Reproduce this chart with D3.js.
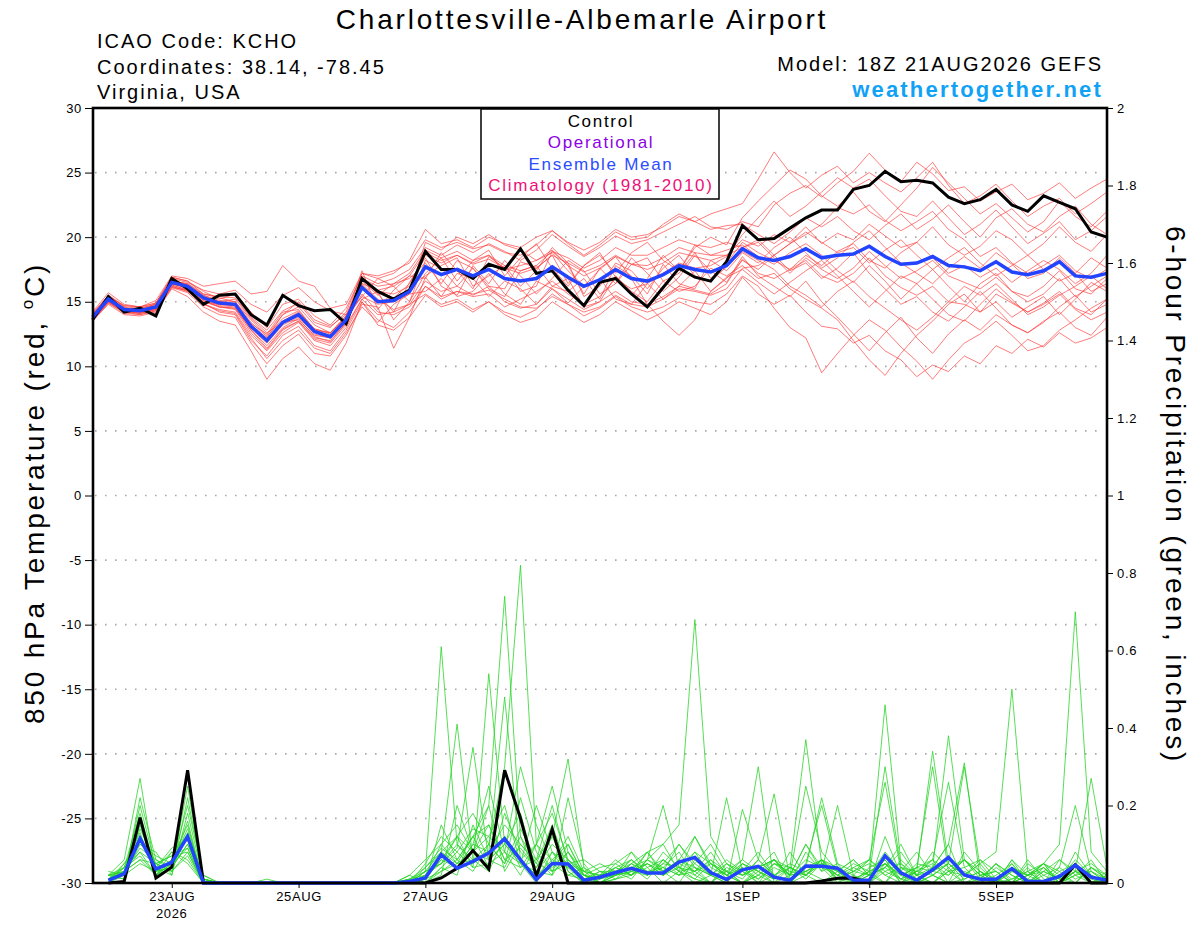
<!DOCTYPE html>
<html>
<head>
<meta charset="utf-8">
<script src="https://cdn.jsdelivr.net/npm/d3@7"></script>
<style>
  body { margin: 0; background: #fff; }
  svg text { font-family: "Liberation Sans", Arial, Helvetica, sans-serif; letter-spacing: 0.1em; }
</style>
</head>
<body>
<svg id="chart" width="1200" height="927"></svg>
<script>
// GEFS plume for KCHO: 850 hPa temperature (left) and 6-hour precipitation (right)

// run start, 6-hourly steps
var startTime = Date.UTC(2026, 7, 21, 18);
var stepHours = 6;
var totalHours = 384;

// Axis ticks
var tempTicks = [-30, -25, -20, -15, -10, -5, 0, 5, 10, 15, 20, 25, 30];
var gridTemps = [-25, -20, -15, -10, -5, 0, 5, 10, 15, 20, 25];
var precipTicks = [0, 0.2, 0.4, 0.6, 0.8, 1, 1.2, 1.4, 1.6, 1.8, 2];
var dateTicks = ['2026-08-23', '2026-08-25', '2026-08-27', '2026-08-29', '2026-09-01', '2026-09-03', '2026-09-05'];

// Legend
var legendItems = ['Control', 'Operational', 'Ensemble Mean', 'Climatology (1981-2010)'];
var legendColors = ['#000000', '#8c00e6', '#2b4cff', '#ee1177'];

// 850 hPa temperature, hour 0..384
var tempControl = [13.6,15.4,14.2,14.5,13.9, 16.8,16.0,14.8,15.5,15.6, 14.0,13.2,15.5,14.7,14.3, 14.4,13.3,16.8,15.8,15.2,
  15.9,18.9,17.5,17.5,16.8, 17.9,17.5,19.1,17.2,17.4, 15.9,14.7,16.5,16.8,15.6, 14.6,16.1,17.6,16.9,16.6,
  18.1,20.9,19.8,19.9,20.7, 21.5,22.1,22.1,23.7,24.0, 25.1,24.3,24.4,24.2,23.1, 22.6,22.9,23.7,22.5,22.0,
  23.2,22.7,22.2,20.4,20.0];

var tempMean = [13.8,15.2,14.4,14.3,14.6, 16.5,16.2,15.3,14.9,14.8, 13.1,12.0,13.4,14.0,12.7, 12.3,13.6,16.1,15.0,15.1,
  15.8,17.7,17.1,17.5,17.0, 17.5,16.8,16.6,16.8,17.7, 16.9,16.2,16.7,17.5,16.8, 16.6,17.1,17.8,17.5,17.3,
  17.8,19.1,18.4,18.2,18.5, 19.1,18.4,18.6,18.7,19.3, 18.5,17.9,18.0,18.5,17.8, 17.7,17.4,18.1,17.3,17.1,
  17.4,18.1,17.0,16.9,17.2];

var tempMembers = [
  [14.0,15.5,14.6,14.2,14.9, 16.9,16.6,15.8,15.2,15.6, 14.2,13.0,14.8,15.2,13.9, 13.2,14.5,17.0,16.4,16.8, 17.5,19.2,18.6,19.4,18.8, 19.5,18.9,18.2,19.0,20.2, 19.3,18.5,19.2,20.1,19.5, 19.8,20.4,21.0,21.6,20.8, 20.6,21.2,20.8,22.5,23.4, 24.0,23.1,24.2,25.1,26.5, 25.2,24.3,25.8,24.9,23.6, 23.9,22.8,23.5,24.1,22.9, 23.4,24.2,23.0,23.8,24.5],
  [13.6,14.9,14.2,14.0,14.3, 16.2,15.8,14.9,14.2,14.0, 12.0,10.8,12.4,13.1,11.6, 11.2,12.8,15.0,13.2,12.8, 13.8,15.5,14.6,15.0,14.2, 15.0,14.0,13.4,13.8,15.0, 14.2,13.4,14.0,15.0,14.3, 13.6,14.2,15.0,14.5,14.0, 15.0,16.9,15.6,14.8,15.5, 14.2,13.1,12.9,11.8,12.4, 11.2,10.5,9.2,10.1,9.6, 10.8,10.2,11.6,11.0,12.1, 11.5,12.6,11.8,12.2,13.0],
  [13.9,15.3,14.5,14.4,14.7, 16.6,16.4,15.6,15.3,15.0, 13.6,12.4,14.0,14.6,13.2, 12.6,13.9,16.4,15.9,16.2, 17.0,18.8,18.2,18.6,18.0, 18.6,17.5,17.8,18.2,19.0, 17.8,17.0,17.6,18.5,17.9, 17.5,18.0,18.8,18.5,18.2, 18.6,19.8,19.3,20.2,19.6, 20.8,19.5,20.3,19.8,21.0, 20.1,19.2,19.6,20.8,19.4, 18.6,19.3,20.5,19.8,18.6, 19.5,20.8,19.6,18.9,20.2],
  [13.7,15.0,14.3,14.1,14.5, 16.3,15.9,14.8,14.4,14.2, 12.4,11.2,12.6,13.4,12.0, 11.6,13.0,15.2,14.0,14.2, 14.8,16.6,15.8,16.2,15.5, 16.2,15.0,14.5,14.8,16.0, 15.2,14.4,15.0,15.8,15.0, 14.8,15.4,16.2,15.9,15.6, 16.4,18.3,17.2,16.8,17.5, 18.2,17.0,16.5,17.2,18.4, 17.0,16.1,15.5,16.2,15.0, 14.8,14.2,15.6,14.9,14.2, 14.9,15.8,14.5,14.0,15.2],
  [13.8,15.3,14.4,14.5,14.8, 16.8,16.5,15.9,15.6,15.9, 14.8,14.2,15.5,16.1,15.0, 14.3,14.0,15.4,14.8,15.0, 15.6,19.6,19.0,20.0,19.5, 20.2,19.4,19.0,18.2,18.8, 17.4,16.2,17.5,18.5,16.8, 14.8,13.5,12.4,13.6,15.8, 16.8,18.2,17.5,18.6,19.5, 20.2,21.0,22.3,21.8,22.5, 21.3,20.5,21.2,22.0,20.6, 19.8,18.5,19.2,18.0,17.2, 17.8,18.6,17.4,16.8,17.5],
  [13.5,14.8,14.0,13.9,14.2, 16.0,15.4,14.2,13.5,13.2, 11.2,9.0,10.6,11.5,10.2, 9.7,11.8,15.0,13.6,13.0, 14.2,16.2,15.2,15.8,15.4, 15.6,14.6,15.2,15.8,16.6, 15.6,14.8,15.4,16.8,16.0, 16.4,17.2,18.0,17.6,17.8, 18.5,20.2,21.5,22.8,21.6, 22.4,23.5,24.6,23.8,24.5, 23.2,22.0,21.6,22.8,21.5, 20.2,21.0,22.1,20.8,19.5, 20.3,21.2,19.8,20.5,21.6],
  [14.2,15.7,14.8,14.6,15.1, 17.0,16.8,16.2,16.4,16.6, 15.6,15.8,17.8,16.6,16.2, 14.5,14.8,17.2,16.8,17.2, 18.2,20.6,19.5,19.8,19.2, 20.0,19.5,19.2,20.0,20.5, 19.5,18.6,19.4,20.4,19.8, 20.0,21.0,21.8,21.2,20.6, 20.9,21.0,20.2,19.5,20.4, 21.5,20.8,21.6,20.5,19.8, 20.9,21.8,20.6,21.4,22.5, 21.2,20.0,21.5,22.2,21.0, 20.4,21.6,22.4,21.0,20.2],
  [13.6,15.0,14.2,14.2,14.4, 16.1,15.9,15.0,14.6,14.5, 12.8,11.4,12.9,13.5,12.2, 12.0,13.3,16.8,15.6,14.2, 16.5,18.4,16.2,15.5,17.8, 16.4,18.2,17.0,15.6,16.8, 18.2,17.4,15.6,16.4,18.4, 17.2,15.8,16.9,18.6,17.4, 16.5,18.5,17.0,16.2,15.4, 16.6,15.0,13.8,12.5,11.2, 12.6,13.8,12.2,11.0,12.5, 13.6,12.8,14.0,13.2,12.6, 13.5,14.2,13.0,12.4,13.8],
  [14.1,15.4,14.6,14.5,14.8, 16.7,16.3,15.5,15.1,15.0, 13.4,12.3,13.7,14.3,12.9, 12.5,13.8,15.4,16.8,16.2, 15.0,17.2,18.4,16.6,18.2, 19.0,17.0,18.4,19.5,17.6, 16.2,17.8,18.8,16.9,15.5, 16.8,18.6,17.4,19.2,20.0, 19.4,21.5,22.8,24.0,25.2, 24.5,23.2,22.4,23.5,22.0, 21.2,22.5,23.8,25.4,24.2, 23.0,21.8,22.6,21.5,20.4, 21.2,22.8,21.6,20.8,22.0],
  [13.7,15.1,14.3,14.3,14.5, 16.4,16.1,15.2,14.7,14.6, 12.9,11.8,13.2,13.8,12.5, 12.2,13.5,15.6,14.2,14.0, 14.6,16.2,15.4,15.8,15.6, 15.9,15.2,14.6,14.5,15.4, 14.8,13.9,14.5,15.4,14.6, 14.2,14.6,15.3,15.0,14.8, 15.6,17.0,16.2,14.5,13.0, 12.2,9.5,11.0,12.4,13.6, 12.8,11.5,10.4,9.0,10.5, 11.8,12.5,13.5,12.4,11.2, 11.6,12.8,13.6,14.5,15.2],
  [13.9,15.2,14.5,14.3,14.6, 16.5,16.2,15.4,15.0,14.9, 13.2,12.1,13.5,14.1,12.8, 12.4,13.7,17.4,14.4,15.9, 17.0,16.8,18.8,17.4,16.0, 18.5,17.6,15.8,16.2,18.9, 17.8,15.6,17.6,16.4,17.9, 18.4,16.6,17.2,18.8,16.8, 18.0,19.6,18.8,18.2,17.5, 18.6,17.8,18.9,19.5,18.2, 17.6,18.8,19.6,18.4,17.2, 17.8,16.9,17.6,16.5,17.4, 18.2,17.5,16.4,17.2,18.6],
  [13.8,15.4,14.7,14.6,14.9, 16.9,16.6,15.6,15.4,15.3, 13.8,12.8,14.3,14.9,13.4, 13.0,14.2,17.2,17.0,17.4, 18.0,19.8,19.2,19.6,19.1, 19.4,18.8,18.6,19.4,20.5, 19.6,19.0,19.6,20.6,20.0, 20.2,20.8,21.6,21.2,21.8, 22.2,22.6,24.5,26.6,25.0, 23.8,24.8,25.5,24.2,25.0, 24.2,23.5,24.6,25.8,24.0, 22.6,23.2,24.1,22.8,21.6, 22.4,23.0,21.8,22.6,23.5],
  [13.5,14.9,14.1,14.0,14.3, 16.1,15.7,14.6,14.0,13.8, 11.8,10.2,11.6,12.5,11.0, 10.8,12.4,14.8,14.6,11.4, 13.8,16.9,15.4,17.2,16.8, 15.4,16.6,16.0,14.8,16.2, 16.8,14.6,15.0,17.0,15.8, 15.0,16.6,15.8,16.2,17.6, 17.0,17.8,16.8,17.2,16.0, 15.2,14.5,13.6,12.0,10.5, 9.3,11.0,12.4,13.5,14.8, 15.6,14.2,15.0,13.8,14.6, 15.4,14.0,15.2,16.5,15.8],
  [14.0,15.2,14.4,14.4,14.7, 16.6,16.4,15.5,15.0,15.2, 13.7,12.6,13.4,13.6,12.4, 12.2,13.4,16.3,15.0,15.3, 16.4,18.6,18.0,18.6,17.9, 18.3,17.6,17.2,17.6,18.6, 18.0,17.3,17.8,18.6,17.9, 17.8,18.4,19.2,18.8,18.6, 19.0,19.4,18.5,17.9,18.8, 19.5,18.6,17.4,16.5,17.8, 16.6,15.2,16.4,17.5,16.2, 15.0,16.4,17.2,15.8,15.0, 15.6,16.8,15.4,16.2,17.0],
  [13.9,15.1,14.4,14.2,14.6, 16.4,16.0,15.1,14.6,14.4, 12.6,11.3,12.8,13.5,12.1, 11.8,13.2,15.2,15.8,13.6, 15.0,18.2,17.6,16.2,17.6, 16.0,15.4,17.4,17.8,16.2, 15.8,16.8,15.2,17.8,17.0, 15.6,17.9,16.4,16.0,18.2, 17.4,18.8,18.0,19.2,20.0, 18.8,17.6,18.4,19.6,20.5, 19.2,18.0,17.2,16.4,17.6, 18.5,17.6,18.8,17.9,16.8, 17.2,18.4,17.2,15.8,16.4],
  [13.7,15.0,14.2,14.1,14.4, 16.3,15.9,15.0,14.8,14.7, 13.0,12.0,13.5,14.2,12.9, 12.6,13.9,16.4,15.2,14.4, 14.8,15.6,14.8,15.2,14.4, 15.0,14.2,13.8,14.4,15.6, 14.8,14.2,14.6,15.5,14.8, 14.6,15.2,16.0,15.8,15.5, 16.0,17.6,17.8,18.6,17.4, 18.0,16.8,17.6,18.8,17.2, 16.0,14.8,15.4,14.2,13.5, 14.6,15.8,14.5,13.2,12.6, 13.4,14.6,15.5,14.2,14.8],
  [14.1,15.5,14.7,14.6,14.9, 16.7,16.3,15.3,14.8,14.7, 13.2,12.2,14.0,15.0,13.6, 13.1,14.0,16.6,15.5,16.4, 16.8,18.0,16.4,18.2,17.6, 16.2,16.0,18.1,17.6,18.6, 16.4,17.8,18.6,17.2,18.8, 19.6,18.2,17.4,19.4,18.6, 18.6,19.2,19.8,18.6,19.5, 20.4,19.6,18.8,19.2,18.0, 19.0,19.8,18.6,17.5,18.4, 19.2,18.0,17.0,17.8,18.6, 17.5,16.6,17.2,18.4,17.6],
  [13.6,15.0,14.3,14.1,14.4, 16.2,15.8,14.8,14.3,14.1, 12.2,10.6,12.0,12.8,11.4, 11.0,12.6,14.6,13.4,14.8, 15.6,15.8,16.8,15.4,15.8, 17.2,15.6,14.8,16.6,16.0, 14.9,16.2,16.8,15.2,14.8, 16.4,15.2,16.2,17.4,15.8, 16.9,17.5,16.5,15.6,16.5, 17.4,18.2,17.0,15.8,14.6, 15.8,17.0,16.4,15.2,14.0, 13.5,14.8,16.0,15.0,14.2, 14.8,15.6,14.4,13.6,14.2],
  [13.8,15.3,14.5,14.4,14.7, 16.6,16.2,15.4,14.9,14.8, 13.3,12.5,14.2,14.4,12.8, 12.6,13.8,16.8,16.2,16.4, 17.2,19.0,18.4,18.9,18.2, 18.6,17.8,17.4,17.8,18.9, 18.4,17.6,18.2,19.2,18.6, 18.6,19.2,19.8,19.4,19.2, 19.6,19.2,19.6,18.4,17.2, 18.4,17.5,16.8,17.6,18.9, 17.8,16.8,17.4,18.2,17.0, 16.5,16.0,16.9,15.8,15.4, 16.2,17.4,16.0,15.6,16.8],
  [13.7,15.2,14.4,14.2,14.5, 16.4,16.1,15.1,14.6,14.5, 12.8,11.6,13.0,13.7,12.3, 11.9,13.4,16.9,15.8,15.6, 16.2,17.0,17.8,18.4,16.2, 17.0,17.8,16.2,17.4,19.2, 18.0,15.4,16.2,18.0,17.4, 16.0,17.6,18.6,17.0,16.6, 17.7,18.9,18.2,17.5,16.2, 15.5,14.6,15.8,16.6,15.4, 14.5,13.6,12.8,13.8,15.0, 16.2,15.5,16.4,15.2,14.0, 14.6,15.5,16.2,17.0,16.0]
];

// 6-hour precipitation (inches), hour 6..384
var precipControl = [0,0.004,0.169,0.013,0.041,0.291,0, 0,0,0,0,0,0,0,0,0,0,0,0,
  0,0,0.013,0.038,0.084,0.036,0.291,0.167,0.017,0.139,0,0,0,
  0,0,0,0,0,0,0,0,0,0,0,0,0, 0.005,0.012,0.013,0, 0,0,0,0,0,0,0,0,0,0,0,0, 0.047,0,0];

var precipMean = [0.007,0.024,0.115,0.036,0.053,0.120,0, 0,0,0,0,0,0,0,0,0,0,0,0,
  0.004,0.013,0.073,0.038,0.056,0.077,0.114,0.060,0.009,0.050,0.049,0.007,0.015,
  0.027,0.038,0.026,0.026,0.054,0.066,0.027,0.009,0.034,0.043,0.015,0.007,0.044,0.043,0.038,0.007,
  0.007,0.070,0.026,0.007,0.034,0.066,0.021,0.010,0.010,0.037,0.004,0.004,0.017,0.046,0.015,0.007];

var precipMembers = [
  [0.01,0.04,0.18,0.03,0.06,0.15,0, 0,0,0,0,0,0,0,0,0,0,0,0, 0,0.02,0.10,0.05,0.08,0.12,0.20,0.05,0,0.08,0.04,0,0.02, 0.04,0.06,0.02,0.05,0.10,0.04,0,0,0.05,0.02,0,0,0.08,0.03,0.05,0,0,0.12,0.02,0,0.04,0.10,0,0,0,0.06,0,0,0.02,0.05,0,0],
  [0.02,0.06,0.27,0.02,0.04,0.10,0.01, 0,0,0,0,0,0,0,0,0,0,0,0, 0,0,0.04,0.02,0.15,0.06,0.10,0.18,0.03,0.02,0.22,0.05,0, 0.02,0.08,0.04,0,0.03,0.12,0.05,0.02,0,0.04,0.08,0,0.02,0.06,0,0,0.03,0.05,0.01,0,0.02,0,0.08,0.03,0,0,0.04,0,0.06,0.03,0.01,0],
  [0,0.03,0.08,0.05,0.03,0.25,0, 0,0,0,0.01,0,0,0,0,0,0,0,0, 0,0.01,0.06,0.12,0.04,0.05,0.08,0.02,0.10,0.03,0.06,0.02,0.01, 0.05,0.02,0.08,0.03,0,0.06,0.02,0.22,0.03,0,0.05,0.02,0.10,0.04,0,0.02,0.06,0.26,0.03,0.08,0.02,0,0.01,0.03,0,0.05,0,0.02,0,0.08,0.02,0],
  [0.01,0.02,0.12,0.04,0.08,0.06,0, 0,0,0,0,0,0,0,0,0,0,0,0, 0.01,0.03,0.61,0.10,0.05,0.08,0.48,0.06,0.02,0.05,0.02,0.01,0, 0.01,0.03,0.05,0.02,0.04,0.01,0,0.03,0.06,0.30,0,0.04,0.02,0.05,0.01,0,0.02,0.04,0.10,0.02,0,0.03,0,0.01,0.05,0.02,0,0.04,0,0.02,0.06,0],
  [0.02,0.01,0.22,0.06,0.04,0.12,0.02, 0,0,0,0,0,0,0,0,0,0,0,0, 0,0,0.03,0.05,0.12,0.20,0.03,0.10,0.05,0.15,0.03,0,0.03, 0.03,0.01,0.06,0.04,0.02,0.05,0.10,0.03,0,0.02,0.06,0.04,0.37,0.05,0.02,0,0.04,0.06,0,0.02,0.08,0.04,0,0.02,0.03,0,0.06,0.01,0,0.03,0,0.02],
  [0.01,0.03,0.06,0.02,0.05,0.09,0, 0,0,0,0,0,0,0,0,0,0,0,0, 0,0.04,0.08,0.41,0.06,0.03,0.12,0.04,0.06,0.02,0.08,0.03,0, 0.02,0.04,0.01,0.06,0.03,0,0.02,0.05,0.03,0.08,0.02,0,0.04,0.06,0.03,0,0.02,0.05,0,0.03,0.06,0.26,0.04,0,0.02,0.05,0,0.03,0.01,0,0.04,0.02],
  [0,0.05,0.10,0.08,0.02,0.22,0.01, 0,0,0,0,0,0,0,0,0,0,0,0, 0.02,0,0.15,0.06,0.03,0.10,0.05,0.22,0.08,0.03,0.05,0.01,0.02, 0.03,0.06,0.02,0.04,0.08,0.02,0,0.04,0.02,0.06,0.23,0.01,0.05,0.20,0.04,0.02,0,0.03,0.05,0.01,0,0.04,0.06,0.02,0,0.03,0.01,0.05,0,0.02,0.03,0],
  [0.01,0.02,0.14,0.05,0.07,0.08,0, 0,0,0,0,0,0,0,0,0,0,0,0, 0,0.03,0.05,0.09,0.35,0.06,0.04,0.12,0.02,0.06,0.10,0.02,0, 0.01,0.05,0.03,0.02,0.06,0.04,0.02,0,0.05,0.03,0.01,0.08,0.02,0,0.03,0.06,0.02,0,0.04,0.03,0.02,0.05,0.30,0.04,0,0.01,0.03,0,0.02,0.05,0,0.01],
  [0.03,0.02,0.20,0.04,0.09,0.11,0, 0,0,0,0,0,0,0,0,0,0,0,0, 0,0,0.02,0.20,0.08,0.15,0.06,0.04,0.10,0.18,0.06,0.02,0.01, 0.04,0.02,0.06,0.10,0.03,0.01,0.05,0.02,0,0.03,0.06,0.02,0.25,0.08,0.03,0.01,0,0.05,0.02,0.04,0.30,0.03,0.06,0.02,0,0.04,0.01,0,0.03,0.05,0.02,0],
  [0,0.04,0.07,0.02,0.05,0.20,0.02, 0,0,0,0,0,0,0,0,0,0,0,0, 0.01,0.02,0.07,0.04,0.10,0.25,0.08,0.05,0.03,0.08,0.02,0.04,0, 0.02,0.03,0.08,0.02,0.05,0.03,0.06,0.01,0.04,0,0.02,0.05,0.03,0.06,0.02,0.01,0.03,0.46,0.05,0.02,0,0.03,0.04,0.06,0.01,0,0.02,0.05,0.03,0,0.04,0.01],
  [0.01,0.03,0.09,0.06,0.03,0.07,0, 0,0,0,0,0,0,0,0,0,0,0,0, 0,0.05,0.12,0.08,0.04,0.54,0.10,0.06,0.02,0.04,0.08,0.01,0.03, 0.01,0.02,0.04,0.06,0.02,0.03,0,0.05,0.02,0.04,0.06,0.02,0.03,0.01,0,0.04,0.02,0.08,0.03,0,0.02,0.05,0.01,0.03,0,0.06,0.02,0,0.04,0.20,0.03,0.01],
  [0.02,0.03,0.17,0.02,0.06,0.13,0.01, 0,0,0,0,0,0,0,0,0,0,0,0, 0,0.01,0.03,0.06,0.12,0.04,0.18,0.08,0.04,0.12,0.03,0,0.02, 0.06,0.03,0.02,0.05,0.04,0.08,0.02,0,0.19,0.06,0.02,0.04,0.01,0.05,0.03,0,0.02,0.30,0.04,0.02,0.06,0,0.03,0.01,0.05,0,0.02,0.04,0,0.03,0.02,0],
  [0,0.02,0.05,0.03,0.04,0.10,0, 0,0,0,0,0,0,0,0,0,0,0,0, 0.02,0.06,0.10,0.15,0.08,0.20,0.74,0.12,0.05,0.03,0.10,0.02,0, 0.03,0.05,0.02,0.08,0.04,0.02,0.06,0.03,0,0.02,0.05,0.04,0.02,0.06,0.01,0.03,0.05,0.02,0,0.04,0.03,0.02,0.06,0.01,0,0.03,0.02,0.05,0,0.03,0.27,0.04],
  [0.01,0.05,0.11,0.04,0.02,0.18,0.01, 0,0,0,0,0,0,0,0,0,0,0,0, 0,0.02,0.05,0.10,0.06,0.08,0.15,0.10,0.06,0.20,0.05,0.03,0.02, 0.02,0.04,0.06,0.03,0.10,0.05,0.02,0.03,0.01,0.06,0.02,0,0.04,0.22,0.05,0.03,0.02,0.06,0.01,0.03,0.34,0.05,0.02,0,0.04,0.01,0.03,0,0.02,0.05,0,0.02],
  [0.02,0.04,0.13,0.02,0.08,0.05,0, 0,0,0,0,0,0,0,0,0,0,0,0, 0,0.03,0.08,0.12,0.18,0.10,0.30,0.82,0.10,0.06,0.04,0.02,0.01, 0.04,0.02,0.05,0.03,0.06,0.12,0.04,0.02,0.05,0.03,0,0.02,0.06,0.04,0.02,0.05,0.03,0,0.06,0.02,0.04,0.10,0.31,0.01,0.05,0.02,0,0.03,0.06,0.02,0,0.03],
  [0.01,0.02,0.10,0.07,0.05,0.14,0.01, 0,0,0,0,0,0,0,0,0,0,0,0, 0.01,0,0.04,0.08,0.14,0.12,0.08,0.30,0.15,0.05,0.12,0.03,0.02, 0.02,0.06,0.03,0.04,0.02,0.08,0.05,0.03,0.02,0.04,0.06,0.01,0.03,0.05,0.02,0.04,0.06,0.03,0.01,0.05,0.04,0.38,0.06,0.02,0.03,0,0.05,0.02,0.04,0.01,0.03,0],
  [0,0.03,0.06,0.05,0.07,0.09,0, 0,0,0,0,0,0,0,0,0,0,0,0, 0,0.02,0.06,0.04,0.10,0.08,0.12,0.06,0.10,0.25,0.08,0.02,0.04, 0.05,0.08,0.02,0.06,0.03,0.04,0.02,0.06,0.03,0.01,0.04,0.02,0.10,0.03,0.20,0.02,0,0.04,0.08,0.02,0.03,0.06,0.02,0.05,0,0.04,0.02,0.03,0.01,0.06,0.02,0],
  [0.02,0.01,0.15,0.03,0.04,0.16,0, 0,0,0,0,0,0,0,0,0,0,0,0, 0,0.01,0.08,0.05,0.06,0.10,0.05,0.14,0.06,0.12,0.32,0.04,0.01, 0.02,0.03,0.05,0.02,0.06,0.03,0.08,0.02,0.04,0.01,0.05,0.03,0.02,0.06,0.04,0.01,0.03,0.05,0.02,0.04,0.06,0.03,0.02,0.05,0.08,0.50,0.03,0.05,0.02,0,0.04,0.01],
  [0.01,0.04,0.08,0.02,0.06,0.12,0.01, 0,0,0,0,0,0,0,0,0,0,0,0, 0,0.03,0.05,0.12,0.08,0.06,0.10,0.05,0.20,0.08,0.05,0.06,0.03, 0.02,0.05,0.08,0.10,0.15,0.68,0.12,0.05,0.02,0.04,0.06,0.02,0.03,0.05,0.01,0.03,0.06,0.02,0.04,0.01,0.03,0.05,0.02,0.06,0.03,0,0.02,0.04,0.01,0.03,0.05,0.02],
  [0.02,0.03,0.12,0.05,0.03,0.08,0, 0,0,0,0,0,0,0,0,0,0,0,0, 0.01,0.04,0.09,0.06,0.12,0.15,0.06,0.09,0.04,0.10,0.06,0.03,0.05, 0.03,0.02,0.06,0.20,0.04,0.03,0.05,0.02,0.06,0.03,0.01,0.04,0.02,0.05,0.03,0.06,0.02,0.04,0.01,0.03,0.05,0.02,0.06,0.03,0.01,0.04,0.02,0.05,0.10,0.70,0.08,0.03]
];

var svg = d3.select('#chart');
var fontFamily = '"Liberation Sans", Arial, Helvetica, sans-serif';

// Scales
var x = d3.scaleUtc()
    .domain([new Date(startTime), new Date(startTime + totalHours * 3600e3)])
    .range([92.5, 1107]);
var yT = d3.scaleLinear().domain([-30, 30]).range([883, 108]);
var yP = d3.scaleLinear().domain([0, 2]).range([883, 108]);

function stepTime(i) { return new Date(startTime + i * stepHours * 3600e3); }

var tempLine = d3.line()
    .x(function (d, i) { return x(stepTime(i)); })
    .y(function (d) { return yT(d); });
// precip starts at the first 6-hour step
var precipLine = d3.line()
    .x(function (d, i) { return x(stepTime(i + 1)); })
    .y(function (d) { return yP(d); });

// dotted grid
svg.append('g').selectAll('line').data(gridTemps).join('line')
    .attr('x1', 95).attr('x2', 1105)
    .attr('y1', function (d) { return yT(d); })
    .attr('y2', function (d) { return yT(d); })
    .attr('stroke', '#aaaaaa')
    .attr('stroke-width', 1.6)
    .attr('stroke-dasharray', '1.6,8.4');

// ensemble members
svg.append('g').selectAll('path').data(tempMembers).join('path')
    .attr('d', tempLine)
    .attr('fill', 'none')
    .attr('stroke', '#ff3b3b')
    .attr('stroke-opacity', 0.75)
    .attr('stroke-width', 0.9);

svg.append('g').selectAll('path').data(precipMembers).join('path')
    .attr('d', precipLine)
    .attr('fill', 'none')
    .attr('stroke', '#22d422')
    .attr('stroke-opacity', 0.85)
    .attr('stroke-width', 0.9);

// control and mean
svg.append('path').datum(precipControl)
    .attr('d', precipLine).attr('fill', 'none')
    .attr('stroke', '#000').attr('stroke-width', 3);
svg.append('path').datum(precipMean)
    .attr('d', precipLine).attr('fill', 'none')
    .attr('stroke', '#2244ff').attr('stroke-width', 3.5);
svg.append('path').datum(tempControl)
    .attr('d', tempLine).attr('fill', 'none')
    .attr('stroke', '#000').attr('stroke-width', 3);
svg.append('path').datum(tempMean)
    .attr('d', tempLine).attr('fill', 'none')
    .attr('stroke', '#2244ff').attr('stroke-width', 3.5);

// Axes
var leftAxis = d3.axisLeft(yT).tickValues(tempTicks).tickSize(7).tickPadding(3)
    .tickFormat(function (d) { return String(d); });
var gl = svg.append('g').attr('transform', 'translate(92,0)').call(leftAxis);

var rightAxis = d3.axisRight(yP).tickValues(precipTicks).tickSize(6).tickPadding(4)
    .tickFormat(function (d) { return String(+d.toFixed(1)); });
var gr = svg.append('g').attr('transform', 'translate(1107,0)').call(rightAxis);

var dayFmt = d3.utcFormat('%-d%b');
var parseDay = d3.utcParse('%Y-%m-%d');
var bottomAxis = d3.axisBottom(x).tickValues(dateTicks.map(parseDay)).tickSize(5).tickPadding(4)
    .tickFormat(function (d) { return dayFmt(d).toUpperCase(); });
var gb = svg.append('g').attr('transform', 'translate(0,883)').call(bottomAxis);

[gl, gr, gb].forEach(function (g) {
  g.select('.domain').remove();
  g.attr('font-family', fontFamily).attr('font-size', 13);
  g.selectAll('text').style('letter-spacing', '0.05em').attr('fill', '#000');
  g.selectAll('line').attr('stroke', '#000');
});

svg.append('text')
    .attr('x', x(parseDay(dateTicks[0])))
    .attr('y', 918)
    .attr('text-anchor', 'middle')
    .attr('font-size', 13)
    .style('letter-spacing', '0.05em')
    .text('2026');

// plot frame
svg.append('rect')
    .attr('x', 93).attr('y', 108)
    .attr('width', 1014).attr('height', 775)
    .attr('fill', 'none')
    .attr('stroke', '#000')
    .attr('stroke-width', 2.6);

// legend
svg.append('rect')
    .attr('x', 481).attr('y', 109)
    .attr('width', 238).attr('height', 90)
    .attr('fill', '#fff')
    .attr('stroke', '#000')
    .attr('stroke-width', 1.5);

svg.append('g').selectAll('text').data(legendItems).join('text')
    .attr('x', 601)
    .attr('y', function (d, i) { return 127 + i * 21.3; })
    .attr('text-anchor', 'middle')
    .attr('font-size', 17)
    .attr('fill', function (d, i) { return legendColors[i]; })
    .text(function (d) { return d; });

// titles and header text
svg.append('text')
    .attr('x', 582).attr('y', 29)
    .attr('text-anchor', 'middle')
    .attr('font-size', 28)
    .text('Charlottesville-Albemarle Airport');

var infoLines = ['ICAO Code: KCHO', 'Coordinates: 38.14, -78.45', 'Virginia, USA'];
svg.append('g').selectAll('text').data(infoLines).join('text')
    .attr('x', 97)
    .attr('y', function (d, i) { return 48 + i * 25.5; })
    .attr('font-size', 20)
    .text(function (d) { return d; });

svg.append('text')
    .attr('x', 1103).attr('y', 71)
    .attr('text-anchor', 'end')
    .attr('font-size', 20)
    .text('Model: 18Z 21AUG2026 GEFS');

svg.append('text')
    .attr('x', 1103).attr('y', 97)
    .attr('text-anchor', 'end')
    .attr('font-size', 22)
    .attr('font-weight', 'bold')
    .attr('fill', '#12a2f5')
    .text('weathertogether.net');

// axis titles
var leftTitle = svg.append('text')
    .attr('transform', 'translate(44,493) rotate(-90)')
    .attr('text-anchor', 'middle')
    .attr('font-size', 28);
leftTitle.append('tspan').text('850 hPa Temperature (red, ');
leftTitle.append('tspan').attr('font-size', 17).attr('dy', -11).text('o');
leftTitle.append('tspan').attr('dy', 11).text('C)');

svg.append('text')
    .attr('transform', 'translate(1166,495) rotate(90)')
    .attr('text-anchor', 'middle')
    .attr('font-size', 28)
    .text('6-hour Precipitation (green, inches)');
</script>
</body>
</html>
